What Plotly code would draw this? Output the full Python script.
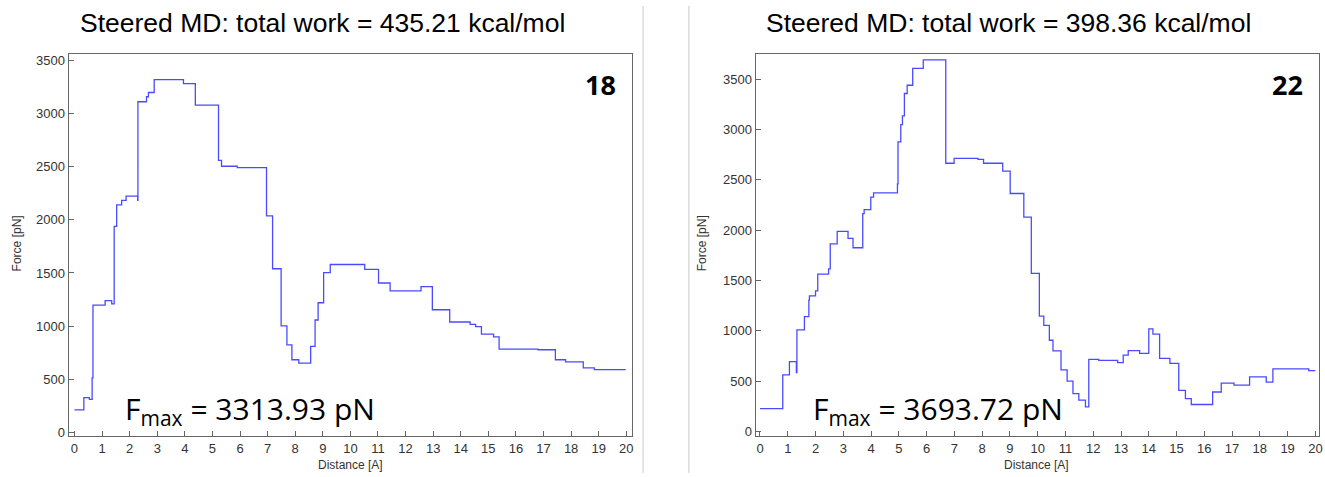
import plotly.graph_objects as go

W, H = 1325, 477

# ---- data ----
dist18 = [0.0, 0.34, 0.54, 0.64, 0.67, 1.11, 1.35, 1.44, 1.53, 1.71, 1.87, 2.29, 2.30, 2.61, 2.68,
          2.89, 3.95, 4.38, 5.22, 5.33, 5.90, 6.96, 7.18, 7.49, 7.70, 7.88, 8.13, 8.56, 8.72, 8.83,
          9.03, 9.27, 10.52, 11.02, 11.44, 12.56, 12.97, 13.60, 14.34, 14.54, 14.75, 15.19, 15.39,
          16.80, 17.43, 17.80, 18.44, 18.84, 19.98]
force18 = [212, 327, 311, 513, 1198, 1241, 1210, 1938, 2140, 2184, 2224, 2184, 3111, 3158, 3198,
           3319, 3282, 3080, 2560, 2504, 2492, 2038, 1540, 1002, 824, 684, 653, 809, 1058, 1220,
           1503, 1580, 1534, 1406, 1332, 1372, 1154, 1039, 1017, 996, 924, 899, 784,
           778, 684, 663, 607, 591, 591]

dist22 = [0.0, 0.82, 1.06, 1.31, 1.33, 1.60, 1.76, 1.78, 2.00, 2.08, 2.47, 2.53, 2.78, 3.17, 3.35,
          3.70, 3.75, 3.99, 4.09, 4.95, 4.97, 5.07, 5.13, 5.20, 5.30, 5.50, 5.88, 6.69, 6.99, 7.85,
          8.05, 8.74, 9.01, 9.50, 9.77, 10.06, 10.22, 10.42, 10.55, 10.84, 11.06, 11.27, 11.48,
          11.72, 11.84, 12.20, 12.88, 13.08, 13.26, 13.67, 14.00, 14.15, 14.39, 14.76, 15.08,
          15.32, 15.53, 16.30, 16.61, 17.07, 17.63, 18.23, 18.47, 19.76, 20.0]
force22 = [226, 562, 693, 585, 1010, 1141, 1305, 1347, 1396, 1563, 1615, 1864, 1988, 1919, 1825,
           2165, 2204, 2328, 2371, 2459, 2878, 3048, 3136, 3358, 3440, 3607, 3692, 2665, 2714, 2704,
           2665, 2587, 2364, 2129, 1570, 1145, 1053, 906, 801, 611, 500, 376, 311,
           245, 716, 706, 683, 759, 804, 775, 1020, 968, 726, 677, 409,
           327, 268, 392, 481, 461, 543, 491, 621, 605, 605]

titles = ["Steered MD: total work = 435.21 kcal/mol", "Steered MD: total work = 398.36 kcal/mol"]
labels = ["18", "22"]
fmax_texts = ["F<sub>max</sub> = 3313.93 pN", "F<sub>max</sub> = 3693.72 pN"]
x_ticks = list(range(0, 21))
y_ticks = [0, 500, 1000, 1500, 2000, 2500, 3000, 3500]


def px(x):
    return x / W


def py(y):
    return 1 - y / H


LINE = "#4a4aff"
fig = go.Figure()
fig.add_trace(go.Scatter(x=dist18, y=force18, mode="lines", line=dict(color=LINE, width=1.3, shape="hv"),
                         xaxis="x", yaxis="y", showlegend=False))
fig.add_trace(go.Scatter(x=dist22, y=force22, mode="lines", line=dict(color=LINE, width=1.3, shape="hv"),
                         xaxis="x2", yaxis="y2", showlegend=False))

ax_common = dict(showgrid=False, zeroline=False, showline=True, linecolor="#666", linewidth=1.3,
                 mirror=True, ticks="inside", ticklen=5, tickcolor="#666",
                 ticklabeloverflow="allow",
                 tickfont=dict(family="Liberation Sans", size=13, color="#333"))

fig.update_layout(
    width=W, height=H,
    margin=dict(l=0, r=0, t=0, b=0),
    paper_bgcolor="white", plot_bgcolor="white",
    xaxis=dict(domain=[px(69), px(634)], range=[-0.206, 20.21], tickvals=x_ticks, anchor="y", **ax_common),
    yaxis=dict(domain=[py(440), py(54)], range=[-37, 3556], tickvals=y_ticks, anchor="x", **ax_common),
    xaxis2=dict(domain=[px(758), px(1323)], range=[-0.154, 20.13], tickvals=x_ticks, anchor="y2", **ax_common),
    yaxis2=dict(domain=[py(440), py(54)], range=[-49, 3746], tickvals=y_ticks, anchor="x2", **ax_common),
)

ann = []
for i, (tx, lx, fx, ylx, dx) in enumerate([(323, 620, 123, 17, 352), (1012, 1309, 813, 705, 1040)]):
    ann.append(dict(text=titles[i], x=px(tx), y=py(22), xref="paper", yref="paper", showarrow=False,
                    xanchor="center", yanchor="middle",
                    font=dict(family="Liberation Sans", size=26.5, color="black")))
    ann.append(dict(text="<b>" + labels[i] + "</b>", x=px(lx), y=py(84), xref="paper", yref="paper",
                    showarrow=False, xanchor="right", yanchor="middle",
                    font=dict(family="Open Sans", size=27, color="black")))
    ann.append(dict(text=fmax_texts[i], x=px(fx), y=py(413), xref="paper", yref="paper",
                    showarrow=False, xanchor="left", yanchor="middle",
                    font=dict(family="Open Sans", size=30, color="black")))
    ann.append(dict(text="Force [pN]", x=px(ylx), y=py(245), xref="paper", yref="paper", showarrow=False,
                    textangle=-90, xanchor="center", yanchor="middle",
                    font=dict(family="Liberation Sans", size=12, color="#333")))
    ann.append(dict(text="Distance [A]", x=px(dx), y=py(469), xref="paper", yref="paper", showarrow=False,
                    xanchor="center", yanchor="middle",
                    font=dict(family="Liberation Sans", size=12, color="#333")))
fig.update_layout(annotations=ann)

shapes = []
for sx in (645, 691):
    shapes.append(dict(type="line", xref="paper", yref="paper", x0=px(sx), x1=px(sx), y0=0, y1=py(5),
                       line=dict(color="#c8c8c8", width=1)))
fig.update_layout(shapes=shapes)

fig.write_html("out.html")
